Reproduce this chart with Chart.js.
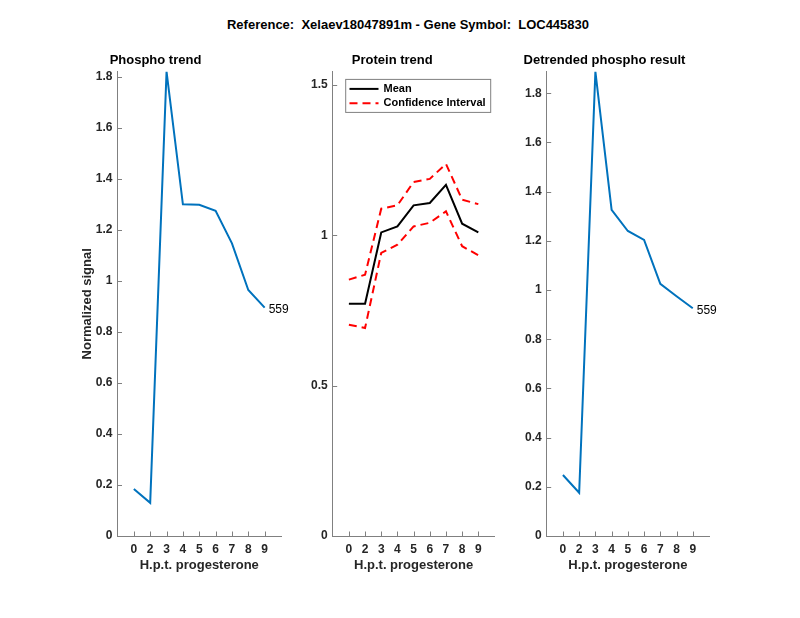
<!DOCTYPE html>
<html>
<head>
<meta charset="utf-8">
<script src="https://cdn.jsdelivr.net/npm/chart.js@4/dist/chart.umd.min.js"></script>
<style>
  body { margin: 0; background: #fff; }
  #fig { position: relative; width: 800px; height: 618px; background: #fff; overflow: hidden; }
  #supTitle { position: absolute; left: 8px; top: 17px; width: 800px; text-align: center;
              font: bold 13px "Liberation Sans", Arial, sans-serif; color: #000; white-space: pre; }
  canvas { position: absolute; }
</style>
</head>
<body>
<div id="fig">
  <div id="supTitle">Reference:  Xelaev18047891m - Gene Symbol:  LOC445830</div>
  <canvas id="c1" width="260" height="560" style="left:30px;top:40px"></canvas>
  <canvas id="c2" width="230" height="560" style="left:290px;top:40px"></canvas>
  <canvas id="c3" width="230" height="560" style="left:500px;top:40px"></canvas>
</div>
<script>
// time points (h.p.t. progesterone), drawn at positions 1..9
var timeLabels = ['0', '2', '3', '4', '5', '6', '7', '8', '9'];

var phospho    = [0.184, 0.130, 1.820, 1.300, 1.298, 1.274, 1.147, 0.964, 0.895];
var proteinMean  = [0.773, 0.773, 1.010, 1.030, 1.100, 1.108, 1.168, 1.039, 1.010];
var proteinUpper = [0.853, 0.869, 1.089, 1.100, 1.178, 1.188, 1.238, 1.119, 1.104];
var proteinLower = [0.703, 0.692, 0.942, 0.969, 1.030, 1.042, 1.080, 0.964, 0.934];
var detrended  = [0.248, 0.176, 1.888, 1.326, 1.240, 1.204, 1.025, 0.975, 0.926];

var phosphoTicks   = [0, 0.2, 0.4, 0.6, 0.8, 1, 1.2, 1.4, 1.6, 1.8];
var proteinTicks   = [0, 0.5, 1, 1.5];
var detrendedTicks = [0, 0.2, 0.4, 0.6, 0.8, 1, 1.2, 1.4, 1.6, 1.8];
var peptideId = '559';

Chart.defaults.font.family = '"Liberation Sans", Arial, sans-serif';
Chart.defaults.color = '#262626';

function pts(arr) {
    return arr.map(function(v, i) { return {x: i + 1, y: v}; });
}

// inward tick marks, end label and boxed legend, MATLAB style
var matlabAxes = {
    id: 'matlabAxes',
    afterDraw: function(chart, args, opts) {
        var ctx = chart.ctx, a = chart.chartArea;
        var x = chart.scales.x, y = chart.scales.y;
        ctx.save();
        ctx.strokeStyle = '#808080';
        ctx.lineWidth = 1;
        ctx.beginPath();
        x.ticks.forEach(function(t) {
            var px = Math.round(x.getPixelForValue(t.value)) + 0.5;
            ctx.moveTo(px, a.bottom); ctx.lineTo(px, a.bottom - 4.5);
        });
        y.ticks.forEach(function(t) {
            var py = Math.round(y.getPixelForValue(t.value)) + 0.5;
            ctx.moveTo(a.left, py); ctx.lineTo(a.left + 4.5, py);
        });
        ctx.stroke();

        if (opts.endLabel) {
            var ds = chart.data.datasets[0].data;
            var last = ds[ds.length - 1];
            ctx.fillStyle = '#000';
            ctx.font = '12px "Liberation Sans", Arial, sans-serif';
            ctx.textBaseline = 'middle';
            ctx.textAlign = 'left';
            ctx.fillText(opts.endLabel, x.getPixelForValue(last.x) + 4, y.getPixelForValue(last.y) + 2);
        }

        if (opts.legend) {
            var bx = a.left + 12.5, by = a.top + 7.3, bw = 145, bh = 33;
            ctx.fillStyle = '#fff';
            ctx.fillRect(bx, by, bw, bh);
            ctx.strokeStyle = '#808080';
            ctx.strokeRect(bx + 0.5, by + 0.5, bw, bh);
            ctx.font = 'bold 11px "Liberation Sans", Arial, sans-serif';
            ctx.textBaseline = 'middle';
            ctx.textAlign = 'left';
            opts.legend.forEach(function(item, k) {
                var d = chart.data.datasets[item.dataset];
                var ly = by + 10 + k * 14.3;
                ctx.strokeStyle = d.borderColor;
                ctx.lineWidth = d.borderWidth;
                ctx.setLineDash(d.borderDash || []);
                ctx.beginPath();
                ctx.moveTo(bx + 4.3, ly); ctx.lineTo(bx + 33.3, ly);
                ctx.stroke();
                ctx.setLineDash([]);
                ctx.fillStyle = '#000';
                ctx.fillText(item.text, bx + 38.3, ly);
            });
        }
        ctx.restore();
    }
};

function makePanel(id, cfg) {
    return new Chart(document.getElementById(id), {
        type: 'line',
        data: {datasets: cfg.datasets},
        plugins: [matlabAxes],
        options: {
            responsive: false,
            animation: false,
            layout: {padding: {right: cfg.padRight, left: 0, top: 0, bottom: 0}},
            elements: {point: {radius: 0}, line: {tension: 0}},
            plugins: {
                legend: {display: false},
                tooltip: {enabled: false},
                title: {
                    display: true,
                    text: cfg.title,
                    color: '#000',
                    font: {size: 13, weight: 'bold'},
                    padding: {top: 13, bottom: 3}
                },
                matlabAxes: {endLabel: cfg.endLabel, legend: cfg.legend}
            },
            scales: {
                x: {
                    type: 'linear',
                    min: 0,
                    max: 10,
                    grid: {drawOnChartArea: false, drawTicks: false},
                    border: {display: true, color: '#808080', width: 1},
                    afterBuildTicks: function(s) {
                        s.ticks = timeLabels.map(function(l, i) { return {value: i + 1}; });
                    },
                    afterFit: function(s) { s.height = 64; },
                    ticks: {
                        padding: 6,
                        maxRotation: 0,
                        autoSkip: false,
                        font: {size: 12, weight: 'bold'},
                        callback: function(v) { return timeLabels[v - 1]; }
                    },
                    title: {
                        display: true,
                        text: 'H.p.t. progesterone',
                        color: '#262626',
                        font: {size: 13, weight: 'bold'},
                        padding: {top: 0, bottom: 27}
                    }
                },
                y: {
                    type: 'linear',
                    min: 0,
                    max: cfg.yMax,
                    grid: {drawOnChartArea: false, drawTicks: false},
                    border: {display: true, color: '#808080', width: 1},
                    afterBuildTicks: function(s) {
                        s.ticks = cfg.yTicks.map(function(v) { return {value: v}; });
                    },
                    afterFit: function(s) { s.width = cfg.yWidth; },
                    ticks: {
                        padding: 5,
                        font: {size: 12, weight: 'bold'},
                        callback: function(v) { return String(Math.round(v * 10) / 10); }
                    },
                    title: {
                        display: !!cfg.yTitle,
                        text: cfg.yTitle || '',
                        color: '#262626',
                        font: {size: 13, weight: 'bold'},
                        padding: {top: 50, bottom: 0}
                    }
                }
            }
        }
    });
}

makePanel('c1', {
    title: 'Phospho trend',
    yTitle: 'Normalized signal',
    yMax: 1.82,
    yTicks: phosphoTicks,
    yWidth: 87.5,
    padRight: 9,
    endLabel: peptideId,
    datasets: [{data: pts(phospho), borderColor: '#0072BD', borderWidth: 2, fill: false}]
});

makePanel('c2', {
    title: 'Protein trend',
    yMax: 1.545,
    yTicks: proteinTicks,
    yWidth: 42.7,
    padRight: 25.5,
    legend: [{dataset: 0, text: 'Mean'}, {dataset: 1, text: 'Confidence Interval'}],
    datasets: [
        {data: pts(proteinMean), borderColor: '#000000', borderWidth: 2, fill: false},
        {data: pts(proteinUpper), borderColor: '#FF0000', borderWidth: 2, borderDash: [8, 5], fill: false},
        {data: pts(proteinLower), borderColor: '#FF0000', borderWidth: 2, borderDash: [8, 5], fill: false}
    ]
});

makePanel('c3', {
    title: 'Detrended phospho result',
    yMax: 1.888,
    yTicks: detrendedTicks,
    yWidth: 46.7,
    padRight: 21,
    endLabel: peptideId,
    datasets: [{data: pts(detrended), borderColor: '#0072BD', borderWidth: 2, fill: false}]
});
</script>
</body>
</html>
